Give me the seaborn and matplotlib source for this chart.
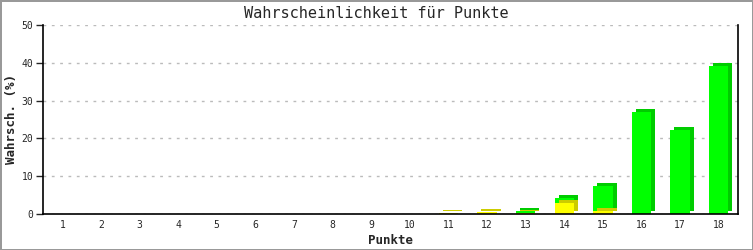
import matplotlib
matplotlib.use("Agg")
import matplotlib.pyplot as plt
import matplotlib.transforms as mtransforms
from matplotlib.patches import Rectangle
import seaborn as sns
import pandas as pd

categories = [str(i) for i in range(1, 19)]
yellow_vals = [0, 0, 0, 0, 0, 0, 0, 0, 0, 0, 0.25, 0.5, 0.3, 2.8, 0.9, 0, 0, 0]
green_vals = [0, 0, 0, 0, 0, 0, 0, 0, 0, 0, 0, 0, 0.5, 1.5, 6.4, 27.1, 22.1, 39.2]
totals = [y + g for y, g in zip(yellow_vals, green_vals)]

df = pd.DataFrame({"Punkte": categories, "total": totals, "yellow": yellow_vals})

sns.set_style("white")
plt.rcParams["font.family"] = ["DejaVu Sans Mono", "DejaVu Sans"]

fig = plt.figure(figsize=(7.53, 2.50), dpi=100)
ax = fig.add_axes([43 / 753, 36 / 250, 695 / 753, 189 / 250])

sns.barplot(data=df, x="Punkte", y="total", color="#00ff00", saturation=1,
            width=0.5, ax=ax, zorder=3)
n_green = len(ax.patches)
sns.barplot(data=df, x="Punkte", y="yellow", color="#ffff00", saturation=1,
            width=0.5, ax=ax, zorder=4)

# 3D side shading: offset copies behind each front face
offset = mtransforms.ScaledTranslation(4 / 100, 3 / 100, fig.dpi_scale_trans)
front = list(ax.patches)
for i, p in enumerate(front):
    p.set_edgecolor("none")
    p.set_linewidth(0)
    h = p.get_height()
    if h <= 0:
        p.set_visible(False)
        continue
    dark = "#00cc00" if i < n_green else "#cccc00"
    z = 2 if i < n_green else 3.5
    sh = Rectangle((p.get_x(), p.get_y()), p.get_width(), h,
                   facecolor=dark, edgecolor="none",
                   transform=ax.transData + offset, zorder=z)
    ax.add_patch(sh)

ax.set_ylim(0, 50)
ax.set_xlim(-0.5, 17.5)
ax.set_yticks([0, 10, 20, 30, 40, 50])
ax.yaxis.grid(True, color="#bbbbbb", linestyle=(0, (2, 4)), linewidth=1)
ax.set_axisbelow(True)
for s in ["left", "bottom", "right"]:
    ax.spines[s].set_visible(True)
    ax.spines[s].set_color("black")
    ax.spines[s].set_linewidth(1.2)
    ax.spines[s].set_zorder(5)
ax.spines["top"].set_visible(False)
ax.tick_params(axis="y", left=True, length=5, width=1, labelsize=7, pad=2)
ax.tick_params(axis="x", bottom=False, length=0, labelsize=7, pad=4)
ax.set_xlabel("Punkte", fontsize=9, fontweight="bold")
ax.set_ylabel("Wahrsch. (%)", fontsize=9, fontweight="bold")
ax.xaxis.set_label_coords(0.5, (250 - 234 - 36) / 189)
ax.yaxis.set_label_coords((18 - 43) / 695, 0.5)
fig.text(0.5, 1 - 13 / 250, "Wahrscheinlichkeit für Punkte", ha="center",
         va="center", fontsize=11)

fig.patch.set_edgecolor("#999999")
fig.patch.set_linewidth(2)
fig.savefig("out.png", dpi=100, edgecolor=fig.get_edgecolor())
